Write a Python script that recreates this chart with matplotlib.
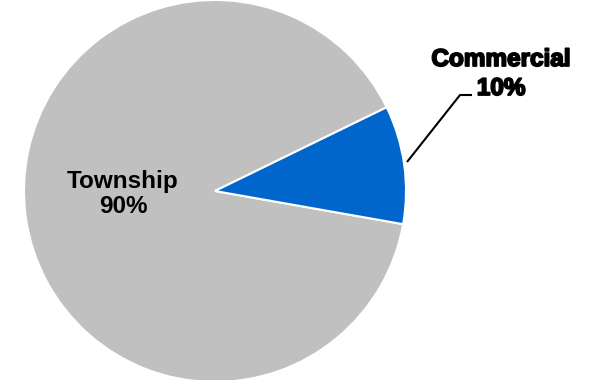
import matplotlib.pyplot as plt
import matplotlib.patheffects as pe

labels = ['Township', 'Commercial']
shares = [90, 10]
colors = ['#C0C0C0', '#0066CC']

fig = plt.figure(figsize=(5.91, 3.80), dpi=100)
ax = fig.add_axes([0, 0, 1, 1])

ax.pie(shares, colors=colors, startangle=26, center=(215, 189), radius=191,
       wedgeprops=dict(edgecolor='white', linewidth=1.5))

# pie() resets the view, so fix the pixel-like limits afterwards
ax.set_xlim(0, 591)
ax.set_ylim(0, 380)
ax.set_aspect('equal')
ax.axis('off')

font = dict(family=['Liberation Sans', 'DejaVu Sans'], fontweight='bold',
            color='black', fontsize=17.5, ha='center', va='baseline')
heavy = [pe.withStroke(linewidth=1.3, foreground='black')]

# label inside the big slice
ax.text(123, 192, labels[0], **font)
ax.text(123, 167, f'{shares[0]}%', **font)

# label outside the small slice
ax.text(501, 314, labels[1], path_effects=heavy, **font)
ax.text(501, 285, f'{shares[1]}%', path_effects=heavy, **font)

# leader line from the blue wedge up to its label
ax.plot([407, 460, 472], [218, 285, 285], color='black', lw=1.5,
        solid_capstyle='butt')

fig.savefig('out.png', dpi=100)
